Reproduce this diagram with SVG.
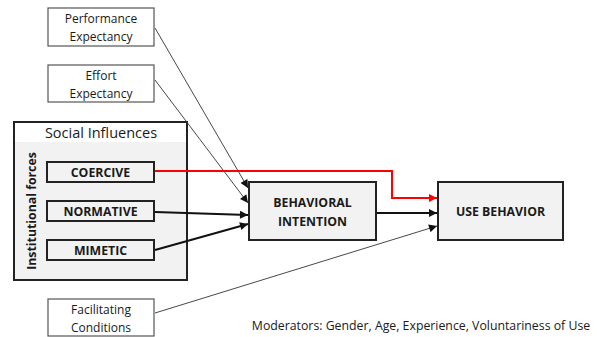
<svg xmlns="http://www.w3.org/2000/svg" width="597" height="337" viewBox="0 0 597 337">
<style>
.t{font-family:"Open Sans","Liberation Sans",sans-serif;fill:#1a1a1a;text-anchor:middle}
.s{font-size:12px}
.b{font-size:12.3px;font-weight:bold}
.box{fill:#fff;stroke:#555;stroke-width:1.2}
.gbox{fill:#f2f2f2;stroke:#222;stroke-width:2}
.thin{fill:none;stroke:#333;stroke-width:0.9}
.thick{fill:none;stroke:#111;stroke-width:2}
.red{fill:none;stroke:#f00;stroke-width:2}
</style>
<defs>
<marker id="ah" viewBox="0 0 10 10" refX="10" refY="5" markerWidth="10" markerHeight="8" markerUnits="userSpaceOnUse" orient="auto"><path d="M0,0 L10,5 L0,10 z" fill="#111"/></marker>
<marker id="ahr" viewBox="0 0 10 10" refX="10" refY="5" markerWidth="10" markerHeight="8" markerUnits="userSpaceOnUse" orient="auto"><path d="M0,0 L10,5 L0,10 z" fill="#f00"/></marker>
</defs>
<rect width="597" height="337" fill="#fff"/>
<g id="performance">
<rect class="box" x="48" y="8" width="106" height="38"/>
<text class="t s" x="101" y="23">Performance</text>
<text class="t s" x="101" y="41">Expectancy</text>
</g>
<g id="effort">
<rect class="box" x="48" y="65" width="106" height="37"/>
<text class="t s" x="101" y="80">Effort</text>
<text class="t s" x="101" y="98">Expectancy</text>
</g>
<g id="social">
<rect x="14" y="122" width="173" height="158" fill="#f2f2f2" stroke="none"/>
<rect x="14" y="122" width="173" height="20" fill="#fff" stroke="none"/>
<rect x="14" y="122" width="173" height="158" fill="none" stroke="#222" stroke-width="2"/>
<text class="t" x="101" y="138" font-size="14.5">Social Influences</text>
<text class="t b" transform="translate(36,211) rotate(-90)" font-size="12">Institutional forces</text>
</g>
<g id="coercive">
<rect class="gbox" x="47" y="162" width="107" height="20"/>
<text class="t b" x="100.5" y="176.5">COERCIVE</text>
</g>
<g id="normative">
<rect class="gbox" x="47" y="201" width="107" height="20"/>
<text class="t b" x="100.5" y="215.5">NORMATIVE</text>
</g>
<g id="mimetic">
<rect class="gbox" x="47" y="240" width="107" height="20"/>
<text class="t b" x="100.5" y="254.5">MIMETIC</text>
</g>
<g id="intention">
<rect class="gbox" x="249" y="182" width="127" height="58"/>
<text class="t b" x="312.5" y="207">BEHAVIORAL</text>
<text class="t b" x="312.5" y="226">INTENTION</text>
</g>
<g id="use">
<rect class="gbox" x="438" y="182" width="125" height="58"/>
<text class="t b" x="500.5" y="216">USE BEHAVIOR</text>
</g>
<g id="facilitating">
<rect class="box" x="48" y="299" width="106" height="37"/>
<text class="t s" x="101" y="314">Facilitating</text>
<text class="t s" x="101" y="332">Conditions</text>
</g>
<text class="t" x="421" y="330" font-size="12.3">Moderators: Gender, Age, Experience, Voluntariness of Use</text>
<g id="connectors">
<path class="thin" d="M155,28 L248,188" marker-end="url(#ah)"/>
<path class="thin" d="M155,80 L248,203" marker-end="url(#ah)"/>
<path class="thick" d="M155,212 L248,215" marker-end="url(#ah)"/>
<path class="thick" d="M155,250 L248,224" marker-end="url(#ah)"/>
<path class="red" d="M155,171 H392 V198 H437" marker-end="url(#ahr)"/>
<path class="thick" d="M377,213 H437" marker-end="url(#ah)"/>
<path class="thin" d="M155,313 L437,226" marker-end="url(#ah)"/>
</g>
</svg>
